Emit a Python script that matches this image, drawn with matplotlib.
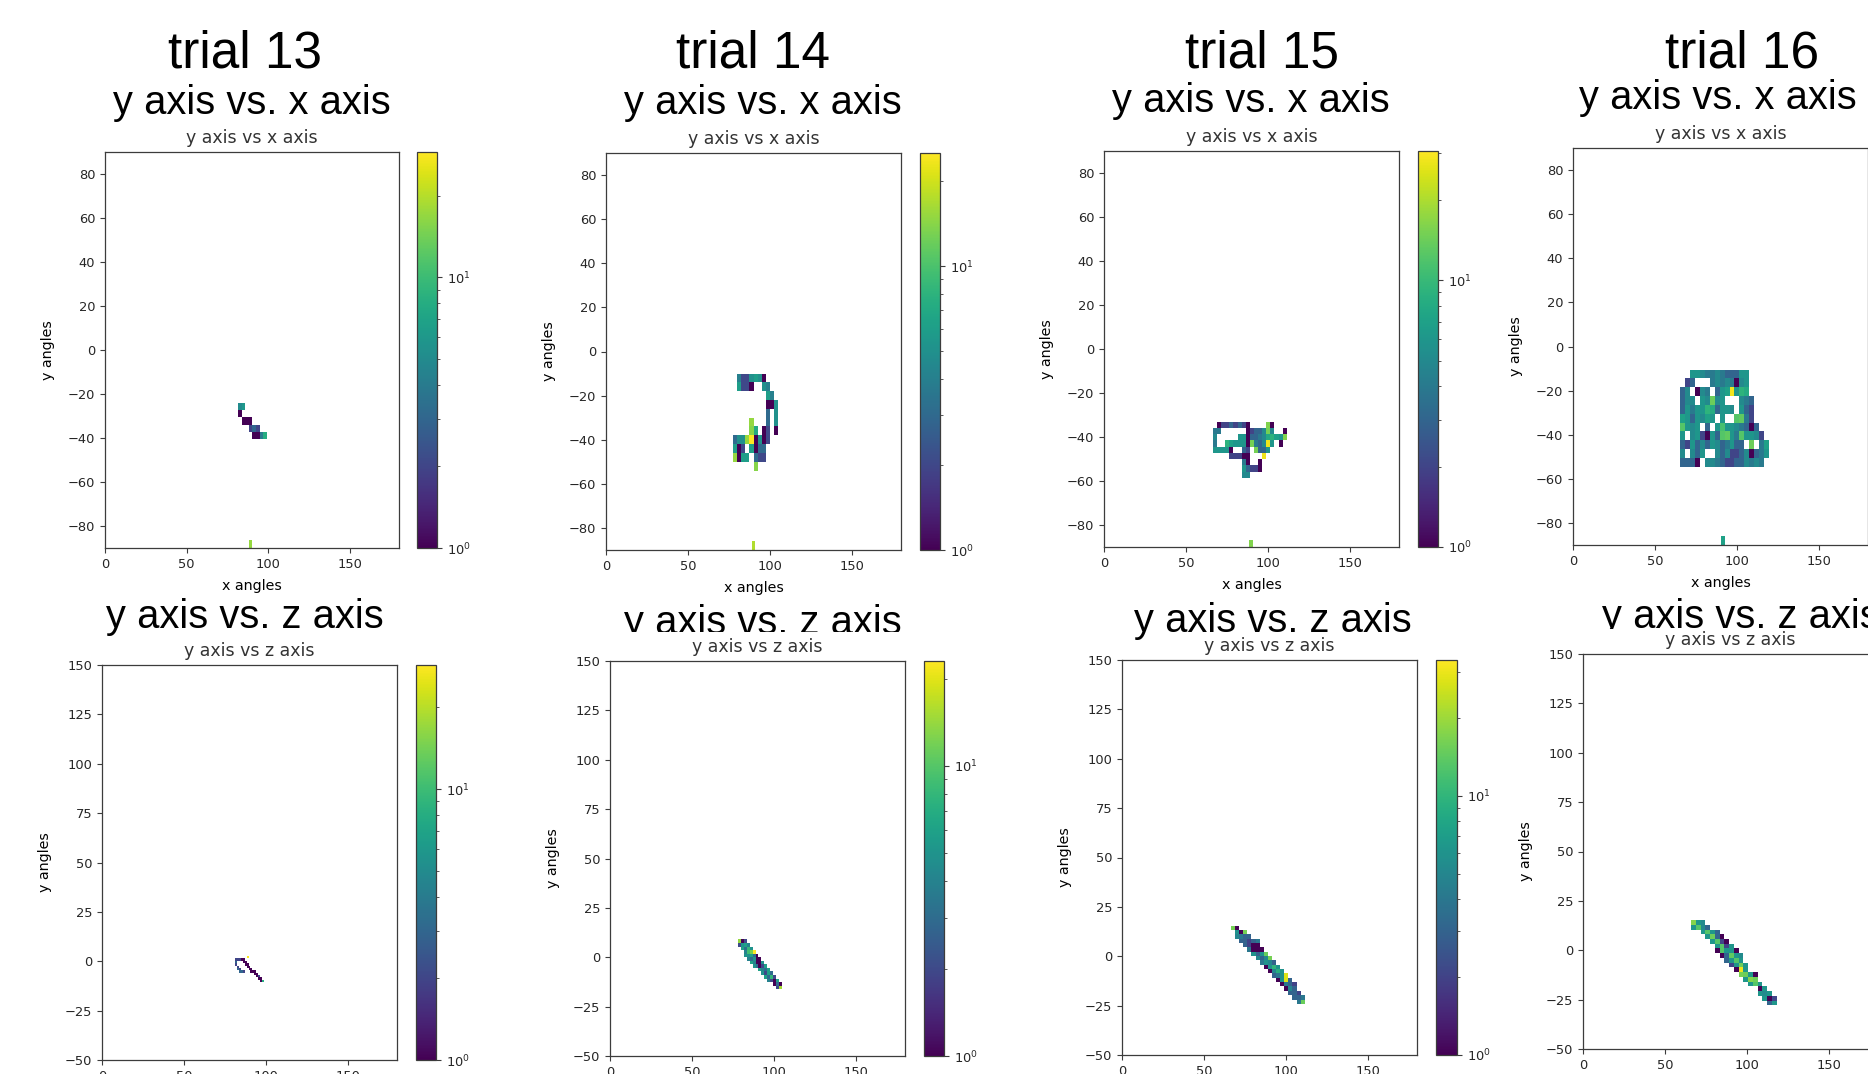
import numpy as np
import matplotlib
matplotlib.use("Agg")
import matplotlib.pyplot as plt
from matplotlib.colors import LogNorm
from matplotlib.transforms import Bbox, TransformedBbox

# ---------------------------------------------------------------- data
TRIALS = ["trial 13", "trial 14", "trial 15", "trial 16"]
TOP_HEADER = "y axis vs. x axis"
BOTTOM_HEADER = "y axis vs. z axis"
TOP_TITLE = "y axis vs x axis"
BOTTOM_TITLE = "y axis vs z axis"
X_LABEL = "x angles"
Y_LABEL = "y angles"
X_TICKS = [0, 50, 100, 150]
TOP_Y_TICKS = [-80, -60, -40, -20, 0, 20, 40, 60, 80]
BOTTOM_Y_TICKS = [-50, -25, 0, 25, 50, 75, 100, 125, 150]
X_RANGE = (0, 180)
TOP_Y_RANGE = (-90, 90)
BOTTOM_Y_RANGE = (-50, 150)

# histogram bins: (x start, x width, y top, y height); counts: rows top->bottom as (first column, counts), 0 = empty
T13_XY_BINS = (81.5, 2.2, -24.0, 3.3)
T13_XY_COUNTS = [(0, [5, 6]), (0, [1]), (1, [1, 1, 1]), (3, [2, 3, 2]), (4, [1, 1, 4, 8])]
T13_XY_LOW_BINS = (88.2, 2.0, -86.5, 3.5)
T13_XY_LOW_COUNTS = [(0, [17])]

T14_XY_BINS = (77.5, 2.5, -10.0, 4.0)
T14_XY_COUNTS = [
    (1, [4, 2, 2, 5, 6, 5, 1]),
    (1, [6, 2, 2, 1, 0, 0, 5, 4]),
    (8, [6, 4]),
    (8, [1, 1, 5]),
    (8, [3, 0, 5]),
    (4, [15, 0, 0, 0, 3, 0, 5]),
    (4, [14, 7, 0, 1, 2, 0, 1]),
    (0, [3, 5, 5, 15, 28, 1, 5, 1, 2]),
    (0, [6, 1, 2, 0, 6, 1, 3, 3]),
    (0, [15, 1, 6, 6, 0, 3, 2, 2]),
    (5, [14]),
]
T14_XY_LOW_BINS = (89.0, 2.1, -86.0, 4.0)
T14_XY_LOW_COUNTS = [(0, [17])]

T15_XY_BINS = (66.5, 2.5, -33.0, 2.85)
T15_XY_COUNTS = [
    (1, [1, 2, 2, 3, 2, 3, 2, 1, 0, 0, 0, 0, 16, 1]),
    (0, [4, 4, 0, 0, 0, 0, 0, 0, 1, 2, 3, 3, 5, 15, 5, 0, 0, 1]),
    (0, [5, 0, 0, 0, 0, 0, 6, 6, 1, 3, 3, 4, 5, 8, 9, 7, 6, 16]),
    (0, [4, 0, 0, 9, 7, 6, 6, 6, 1, 15, 4, 3, 5, 28, 6, 0, 1]),
    (0, [6, 6, 6, 6, 1, 0, 0, 3, 2, 0, 15, 3, 3, 6]),
    (4, [2, 2, 2, 1, 1, 0, 0, 0, 28]),
    (7, [4, 1, 0, 0, 1]),
    (7, [6, 3, 2, 2, 1]),
    (7, [5, 5]),
]
T15_XY_LOW_BINS = (88.4, 2.5, -86.6, 3.4)
T15_XY_LOW_COUNTS = [(0, [16])]

T16_XY_BINS = (65.5, 3.0, -10.5, 4.0)
T16_XY_COUNTS = [
    (2, [6, 6, 5, 4, 4, 5, 4, 3, 3, 3, 6, 6]),
    (1, [2, 3, 0, 0, 0, 4, 5, 4, 5, 4, 1, 5, 6]),
    (0, [3, 5, 0, 1, 5, 4, 0, 3, 6, 7, 28, 6, 9, 8]),
    (0, [3, 5, 5, 0, 6, 5, 14, 5, 6, 0, 0, 0, 5, 4, 3]),
    (0, [3, 6, 4, 6, 6, 9, 8, 3, 6, 6, 5, 0, 6, 3, 2]),
    (0, [7, 6, 3, 6, 5, 7, 6, 0, 6, 0, 0, 12, 13, 4, 2]),
    (0, [12, 6, 5, 6, 0, 3, 0, 6, 11, 6, 6, 5, 4, 3, 1, 3]),
    (0, [6, 0, 5, 6, 2, 1, 6, 3, 12, 13, 6, 4, 12, 6, 6, 5, 2]),
    (0, [3, 2, 6, 3, 5, 3, 6, 5, 3, 4, 6, 3, 3, 0, 14, 0, 4, 7]),
    (0, [5, 0, 5, 3, 6, 0, 0, 5, 3, 5, 2, 2, 3, 5, 1, 3, 4, 6]),
    (0, [3, 3, 3, 1, 0, 5, 5, 4, 3, 2, 2, 3, 3, 5, 4, 5, 4]),
]
T16_XY_LOW_BINS = (90.0, 3.0, -86.0, 4.0)
T16_XY_LOW_COUNTS = [(0, [7])]

T13_YZ_BINS = (81.0, 1.2, 2.6, 1.2)
T13_YZ_COUNTS = [
    (6, [28]),
    (0, [2, 2, 2, 1, 1]),
    (0, [3, 0, 0, 0, 1, 1]),
    (0, [2, 0, 0, 0, 0, 1, 1]),
    (1, [2, 0, 0, 0, 0, 1, 1]),
    (1, [3, 2, 0, 0, 0, 0, 1, 1]),
    (2, [3, 3, 2, 0, 0, 0, 1, 1, 1]),
    (10, [1, 1]),
    (11, [1, 2]),
    (12, [1, 1]),
    (13, [1, 8]),
]

T14_YZ_BINS = (78.0, 1.8, 9.0, 1.8)
T14_YZ_COUNTS = [
    (0, [14, 1, 2]),
    (0, [2, 5, 6, 4]),
    (1, [6, 3, 8, 5]),
    (2, [4, 9, 12, 28]),
    (2, [5, 5, 6, 3, 1]),
    (3, [4, 3, 5, 1, 1]),
    (4, [6, 4, 1, 1, 5]),
    (5, [5, 3, 1, 2, 6]),
    (7, [6, 4, 3, 6]),
    (8, [5, 2, 6, 3]),
    (9, [6, 3, 8, 2]),
    (10, [4, 2, 1, 6]),
    (12, [1, 3, 1]),
    (13, [2, 15]),
]

T15_YZ_BINS = (66.5, 2.5, 15.5, 2.2)
T15_YZ_COUNTS = [
    (0, [16, 1]),
    (1, [6, 1, 16]),
    (1, [5, 4, 3, 3]),
    (2, [3, 3, 2, 3, 4]),
    (3, [3, 2, 1, 1]),
    (4, [4, 1, 1, 1]),
    (5, [6, 3, 6, 15]),
    (6, [5, 3, 5, 16]),
    (7, [4, 6, 5, 3]),
    (8, [1, 6, 10, 6]),
    (9, [1, 5, 9, 6]),
    (10, [3, 4, 6, 28]),
    (11, [1, 6, 28, 3]),
    (12, [1, 4, 3, 2]),
    (13, [1, 5, 3]),
    (14, [3, 3, 2]),
    (15, [3, 3, 4]),
    (16, [4, 15]),
]

T16_YZ_BINS = (66.0, 2.9, 15.3, 2.4)
T16_YZ_COUNTS = [
    (0, [16, 6, 5]),
    (0, [6, 12, 5, 3]),
    (2, [6, 12, 6, 3]),
    (3, [6, 14, 3, 1]),
    (4, [6, 12, 2, 1]),
    (5, [6, 12, 2, 6]),
    (5, [1, 12, 6, 6, 1]),
    (6, [1, 3, 13, 6, 5]),
    (7, [3, 6, 12, 6]),
    (8, [2, 6, 14, 6]),
    (9, [1, 28, 6]),
    (10, [15, 14, 6, 1]),
    (11, [6, 16, 14]),
    (12, [6, 12, 6]),
    (14, [1, 6]),
    (14, [6, 5, 6]),
    (15, [6, 1, 2]),
    (16, [3, 6]),
]

# colour-scale maxima
TOP_VMAX = [29, 25, 30.5, 30]
BOTTOM_VMAX = [28.7, 23, 33.5, 30]

TOP_DATA = [
    [(T13_XY_BINS, T13_XY_COUNTS), (T13_XY_LOW_BINS, T13_XY_LOW_COUNTS)],
    [(T14_XY_BINS, T14_XY_COUNTS), (T14_XY_LOW_BINS, T14_XY_LOW_COUNTS)],
    [(T15_XY_BINS, T15_XY_COUNTS), (T15_XY_LOW_BINS, T15_XY_LOW_COUNTS)],
    [(T16_XY_BINS, T16_XY_COUNTS), (T16_XY_LOW_BINS, T16_XY_LOW_COUNTS)],
]
BOTTOM_DATA = [
    [(T13_YZ_BINS, T13_YZ_COUNTS)],
    [(T14_YZ_BINS, T14_YZ_COUNTS)],
    [(T15_YZ_BINS, T15_YZ_COUNTS)],
    [(T16_YZ_BINS, T16_YZ_COUNTS)],
]

# ---------------------------------------------------------------- layout (pixels)
W, H = 1868, 1074
DPI = 100
TOP_AX = [(105, 152, 399, 548), (606, 153, 901, 550), (1104, 151, 1399, 547), (1573, 148, 1868, 545)]
TOP_CB = [(417, 437), (920, 940), (1418, 1438), None]
BOT_AX = [(102, 665, 397, 1060), (610, 661, 905, 1056), (1122, 660, 1417, 1055), (1583, 654, 1878, 1049)]
BOT_CB = [(416, 436), (924, 944), (1436, 1457), None]
TRIAL_POS = [(245, 68), (753, 68), (1262, 68), (1742, 67)]
TOP_HEAD_POS = [(252, 114.5), (763, 114.5), (1251, 112), (1717.5, 109)]
BOT_HEAD_POS = [(245, 628), (762.5, 634), (1273, 632), (1741, 628)]
BOT_HEAD_CLIP = [None, 632, None, 629]

plt.rcParams.update({
    "font.family": "DejaVu Sans",
    "text.color": "#262626",
    "axes.edgecolor": "#3c3c3c",
    "axes.linewidth": 0.9,
    "xtick.color": "#3c3c3c",
    "ytick.color": "#3c3c3c",
    "xtick.labelcolor": "#262626",
    "ytick.labelcolor": "#262626",
    "xtick.labelsize": 9.4,
    "ytick.labelsize": 9.4,
    "xtick.major.size": 3.7,
    "ytick.major.size": 3.7,
    "ytick.minor.size": 2.1,
    "xtick.major.pad": 3.4,
    "ytick.major.pad": 3.4,
    "axes.titlesize": 12.5,
    "axes.labelsize": 10.3,
})

fig = plt.figure(figsize=(W / DPI, H / DPI), dpi=DPI, facecolor="white")


def rect(l, t, r, b):
    return [l / W, 1 - b / H, (r - l) / W, (b - t) / H]


def to_grid(counts):
    ncols = max(s + len(v) for s, v in counts)
    g = np.zeros((len(counts), ncols))
    for r, (s, vals) in enumerate(counts):
        g[r, s:s + len(vals)] = vals
    return g


def draw_blocks(ax, blocks, norm):
    mesh = None
    for (x0, dx, ytop, dy), counts in blocks:
        g = to_grid(counts)
        nr, nc = g.shape
        xe = x0 + dx * np.arange(nc + 1)
        ye = ytop - dy * np.arange(nr + 1)
        mesh = ax.pcolormesh(xe, ye, np.ma.masked_equal(g, 0), cmap="viridis", norm=norm)
    return mesh


def make_panel(box, cb, blocks, vmax, title, yrange, yticks, with_xlabel):
    l, t, r, b = box
    ax = fig.add_axes(rect(l, t, r, b))
    norm = LogNorm(vmin=1, vmax=vmax)
    mesh = draw_blocks(ax, blocks, norm)
    ax.set_xlim(*X_RANGE)
    ax.set_ylim(*yrange)
    ax.set_xticks(X_TICKS)
    ax.set_yticks(yticks)
    ax.set_title(title, pad=6.7, color="#333333")
    ax.set_ylabel(Y_LABEL)
    ax.yaxis.set_label_coords(-50 / (r - l), 0.5)
    if with_xlabel:
        ax.set_xlabel(X_LABEL)
        ax.xaxis.set_label_coords(0.5, -31 / (b - t))
    if cb is not None:
        cax = fig.add_axes(rect(cb[0], t, cb[1], b))
        cbar = fig.colorbar(mesh, cax=cax)
        cbar.outline.set_edgecolor("#3c3c3c")
        cbar.ax.tick_params(labelsize=9.4)
    return ax


for i in range(4):
    make_panel(TOP_AX[i], TOP_CB[i], TOP_DATA[i], TOP_VMAX[i], TOP_TITLE,
               TOP_Y_RANGE, TOP_Y_TICKS, True)
    make_panel(BOT_AX[i], BOT_CB[i], BOTTOM_DATA[i], BOTTOM_VMAX[i], BOTTOM_TITLE,
               BOTTOM_Y_RANGE, BOTTOM_Y_TICKS, True)

head_font = "Liberation Sans"
for i in range(4):
    x, y = TRIAL_POS[i]
    fig.text(x / W, 1 - y / H, TRIALS[i], ha="center", va="baseline",
             fontsize=37, family=head_font, color="black")
    x, y = TOP_HEAD_POS[i]
    fig.text(x / W, 1 - y / H, TOP_HEADER, ha="center", va="baseline",
             fontsize=28.7, family=head_font, color="black")
    x, y = BOT_HEAD_POS[i]
    t = fig.text(x / W, 1 - y / H, BOTTOM_HEADER, ha="center", va="baseline",
                 fontsize=28.7, family=head_font, color="black")
    if BOT_HEAD_CLIP[i] is not None:
        clip = Bbox([[0, 1 - BOT_HEAD_CLIP[i] / H], [1, 1]])
        t.set_clip_box(TransformedBbox(clip, fig.transFigure))
        t.set_clip_on(True)

fig.savefig("out.png", dpi=DPI, facecolor="white")
